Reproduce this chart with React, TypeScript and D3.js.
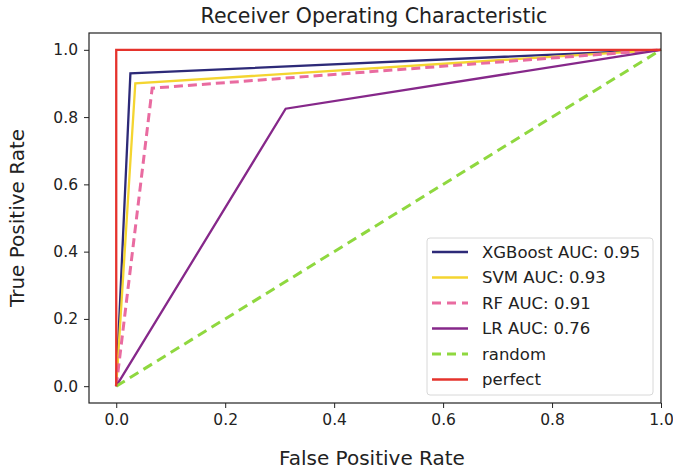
import React, { useRef, useEffect } from "react";
import * as d3 from "d3";

// ROC curves
const xgbFpr = [0, 0.026, 1];
const xgbTpr = [0, 0.93, 1];
const svmFpr = [0, 0.035, 1];
const svmTpr = [0, 0.9, 1];
const rfFpr = [0, 0.066, 1];
const rfTpr = [0, 0.886, 1];
const lrFpr = [0, 0.311, 1];
const lrTpr = [0, 0.825, 1];
const randomFpr = [0, 1];
const randomTpr = [0, 1];
const perfectFpr = [0, 0, 1];
const perfectTpr = [0, 1, 1];

const seriesNames = ["XGBoost AUC: 0.95", "SVM AUC: 0.93", "RF AUC: 0.91", "LR AUC: 0.76", "random", "perfect"];
const tickValues = [0, 0.2, 0.4, 0.6, 0.8, 1.0];

const App = () => {
  const ref = useRef<SVGSVGElement>(null);

  useEffect(() => {
    const width = 673;
    const height = 473;
    const margin = { top: 33, right: 12, bottom: 70, left: 89 };
    const font = "DejaVu Sans, sans-serif";

    const svg = d3.select(ref.current);
    svg.selectAll("*").remove();

    const x = d3.scaleLinear().domain([-0.05, 1.0]).range([margin.left, width - margin.right]);
    const y = d3.scaleLinear().domain([-0.05, 1.05]).range([height - margin.bottom, margin.top]);

    const series = [
      { name: seriesNames[0], fpr: xgbFpr, tpr: xgbTpr, color: "#2d2a78", dash: null },
      { name: seriesNames[1], fpr: svmFpr, tpr: svmTpr, color: "#f4d530", dash: null },
      { name: seriesNames[2], fpr: rfFpr, tpr: rfTpr, color: "#e96ba0", dash: "9,5" },
      { name: seriesNames[3], fpr: lrFpr, tpr: lrTpr, color: "#86288a", dash: null },
      { name: seriesNames[4], fpr: randomFpr, tpr: randomTpr, color: "#8fd83f", dash: "10,6" },
      { name: seriesNames[5], fpr: perfectFpr, tpr: perfectTpr, color: "#e5332c", dash: null },
    ];

    const line = d3
      .line<[number, number]>()
      .x((d) => x(d[0]))
      .y((d) => y(d[1]));

    const plot = svg.append("g");
    series.forEach((s) => {
      const pts = s.fpr.map((f, i) => [f, s.tpr[i]] as [number, number]);
      plot
        .append("path")
        .attr("d", line(pts))
        .attr("fill", "none")
        .attr("stroke", s.color)
        .attr("stroke-width", s.dash ? 3 : 2.3)
        .attr("stroke-dasharray", s.dash);
    });

    // frame
    svg
      .append("rect")
      .attr("x", margin.left)
      .attr("y", margin.top)
      .attr("width", width - margin.left - margin.right)
      .attr("height", height - margin.top - margin.bottom)
      .attr("fill", "none")
      .attr("stroke", "#222")
      .attr("stroke-width", 1.2);

    const xAxis = svg
      .append("g")
      .attr("transform", `translate(0,${height - margin.bottom})`)
      .call(d3.axisBottom(x).tickValues(tickValues).tickFormat(d3.format(".1f")).tickSizeOuter(0).tickSize(5).tickPadding(6));
    const yAxis = svg
      .append("g")
      .attr("transform", `translate(${margin.left},0)`)
      .call(d3.axisLeft(y).tickValues(tickValues).tickFormat(d3.format(".1f")).tickSizeOuter(0).tickSize(5).tickPadding(6));
    [xAxis, yAxis].forEach((a) => {
      a.select(".domain").remove();
      a.selectAll("line").attr("stroke", "#222");
      a.selectAll("text").attr("fill", "#222").style("font-family", font).style("font-size", "15.5px");
    });

    // titles
    svg
      .append("text")
      .attr("x", 374)
      .attr("y", 23)
      .attr("text-anchor", "middle")
      .style("font-family", font)
      .style("font-size", "20.5px")
      .attr("fill", "#222")
      .text("Receiver Operating Characteristic");

    svg
      .append("text")
      .attr("x", 372)
      .attr("y", 465)
      .attr("text-anchor", "middle")
      .style("font-family", font)
      .style("font-size", "20px")
      .attr("fill", "#222")
      .text("False Positive Rate");

    svg
      .append("text")
      .attr("transform", `translate(24,218) rotate(-90)`)
      .attr("text-anchor", "middle")
      .style("font-family", font)
      .style("font-size", "20px")
      .attr("fill", "#222")
      .text("True Positive Rate");

    // legend
    const legend = svg.append("g").attr("transform", "translate(427,238)");
    legend
      .append("rect")
      .attr("width", 226)
      .attr("height", 157)
      .attr("rx", 3)
      .attr("fill", "white")
      .attr("fill-opacity", 0.8)
      .attr("stroke", "#d8d8d8");
    series.forEach((s, i) => {
      const ly = 14 + i * 25.5;
      legend
        .append("line")
        .attr("x1", 5)
        .attr("x2", 41)
        .attr("y1", ly)
        .attr("y2", ly)
        .attr("stroke", s.color)
        .attr("stroke-width", s.dash ? 3 : 2.3)
        .attr("stroke-dasharray", s.dash ? "9,6" : null);
      legend
        .append("text")
        .attr("x", 55)
        .attr("y", ly)
        .attr("dy", "0.36em")
        .style("font-family", font)
        .style("font-size", "16.5px")
        .attr("fill", "#222")
        .text(s.name);
    });
  }, []);

  return <svg ref={ref} width={673} height={473} style={{ position: "absolute", left: 0, top: 0, background: "white" }} />;
};

export default App;
